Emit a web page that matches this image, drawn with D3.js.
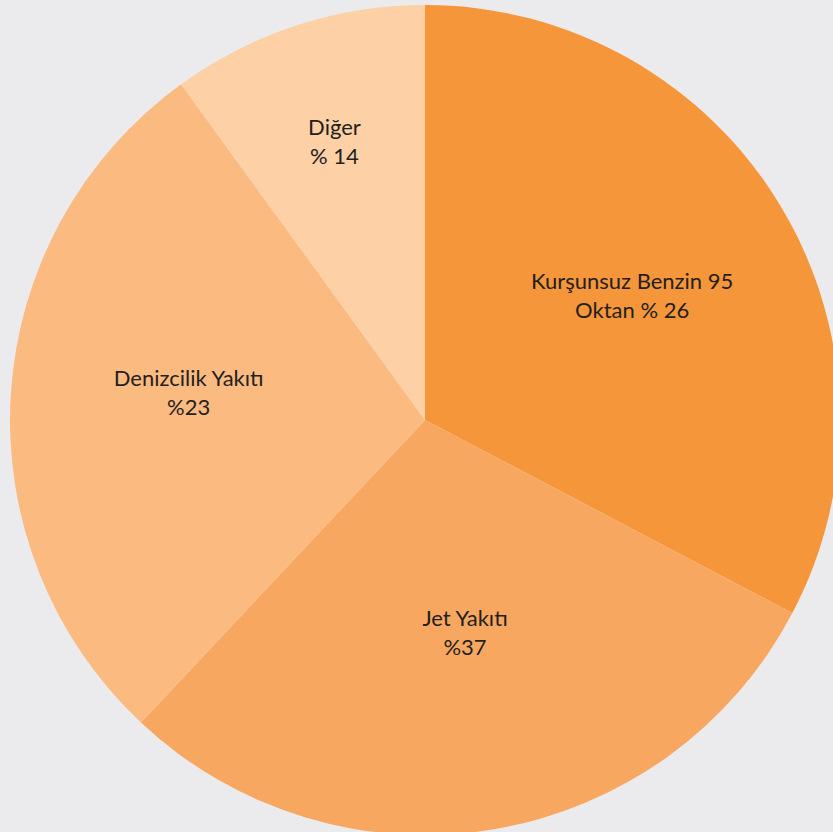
<!DOCTYPE html>
<html>
<head>
<meta charset="utf-8">
<script src="https://cdn.jsdelivr.net/npm/d3@7"></script>
<style>
  html, body { margin: 0; padding: 0; background: #ebebee; }
  svg { display: block; }
</style>
</head>
<body>
<svg id="chart" width="833" height="832"></svg>
<script>
const categories = ["Kurşunsuz Benzin 95 Oktan", "Jet Yakıtı", "Denizcilik Yakıtı", "Diğer"];
const sliceValues = [32.7, 29.3, 28.0, 10.0];
const labelLine1 = ["Kurşunsuz Benzin 95", "Jet Yakıtı", "Denizcilik Yakıtı", "Diğer"];
const labelLine2 = ["Oktan % 26", "%37", "%23", "% 14"];

const colors = ["#f6963a", "#f8a760", "#fbba80", "#fdd0a5"];
const labelRadius = [242, 216, 238, 293];
const labelAngleShift = [0, -0.02, 0.056, 0];

const width = 833, height = 832;
const cx = 425, cy = 420, r = 415;

const svg = d3.select("#chart");
svg.append("rect").attr("width", width).attr("height", height).attr("fill", "#ebebee");

const g = svg.append("g").attr("transform", `translate(${cx},${cy})`);

const data = categories.map((c, i) => ({ category: c, value: sliceValues[i], l1: labelLine1[i], l2: labelLine2[i], i }));

const pie = d3.pie().value(d => d.value).sort(null);
const arcs = pie(data);
const arc = d3.arc().innerRadius(0).outerRadius(r);

g.selectAll("path.slice")
  .data(arcs)
  .join("path")
  .attr("class", "slice")
  .attr("d", arc)
  .attr("fill", d => colors[d.data.i]);

const labels = g.selectAll("text.lbl")
  .data(arcs)
  .join("text")
  .attr("class", "lbl")
  .attr("transform", d => {
    const a = (d.startAngle + d.endAngle) / 2 + labelAngleShift[d.data.i];
    const lr = labelRadius[d.data.i];
    return `translate(${lr * Math.sin(a)},${-lr * Math.cos(a)})`;
  })
  .attr("text-anchor", "middle")
  .attr("font-family", "Lato, 'Open Sans', sans-serif")
  .attr("font-size", 22)
  .attr("fill", "#231f20");

labels.append("tspan").attr("x", 0).attr("y", -6).text(d => d.data.l1);
labels.append("tspan").attr("x", 0).attr("y", 23).text(d => d.data.l2);
</script>
</body>
</html>
